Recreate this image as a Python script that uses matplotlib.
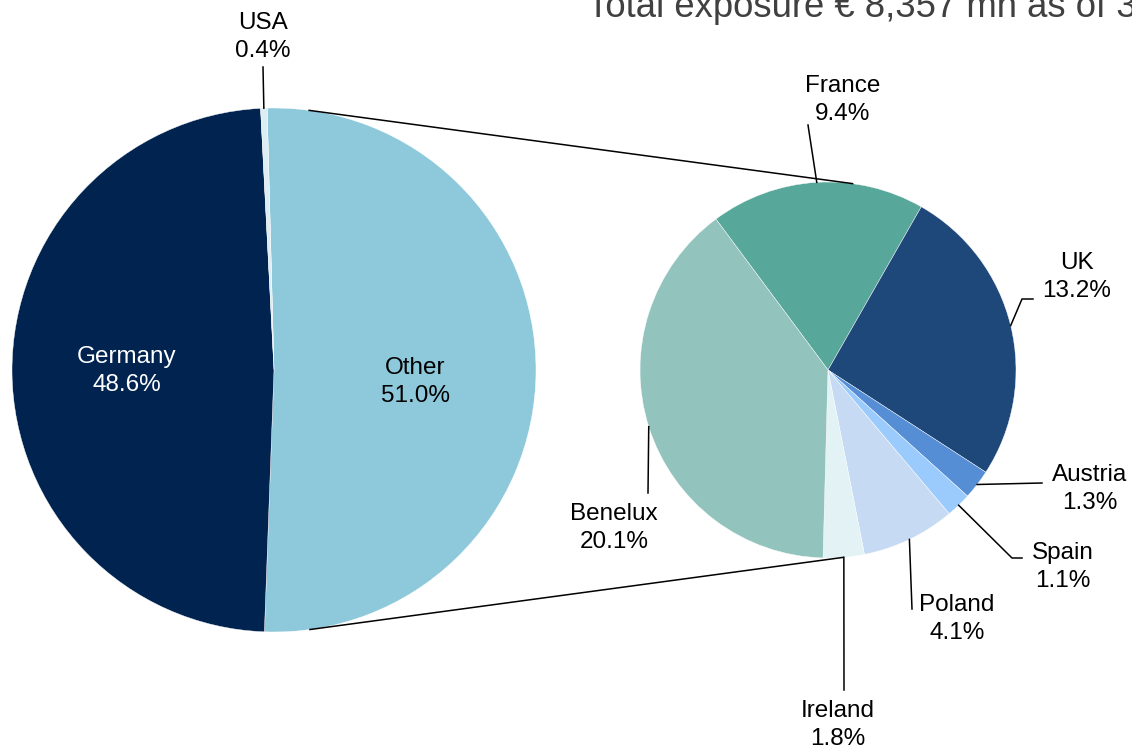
import numpy as np
import matplotlib.pyplot as plt

plt.rcParams['font.family'] = ['Liberation Sans', 'DejaVu Sans']

# first pie: whole exposure
main_labels = ["Other", "Germany", "USA"]
main_shares = [51.0, 48.6, 0.4]
main_colors = ["#8EC8DB", "#00234F", "#DCEDF4"]

# second pie: breakdown of "Other"
other_labels = ["France", "UK", "Austria", "Spain", "Poland", "Ireland", "Benelux"]
other_shares = [9.4, 13.2, 1.3, 1.1, 4.1, 1.8, 20.1]
other_colors = ["#58A79B", "#1F487A", "#558ED5", "#9BCBFD",
                "#C6DBF3", "#E3F2F5", "#92C3BC"]

title = "Total exposure € 8,357 mn as of 3"

W, H = 1132, 753
fig = plt.figure(figsize=(W / 100, H / 100), dpi=100)
ax = fig.add_axes([0, 0, 1, 1])


def py(y):
    # pixel row -> data y
    return H - y


big_c, big_r = (274, py(370)), 262
small_c, small_r = (828, py(370)), 188
wp = dict(edgecolor="white", linewidth=0.3)

wl, _ = ax.pie(main_shares, colors=main_colors, startangle=91.5,
               counterclock=False, center=big_c, radius=big_r, wedgeprops=wp)
ws, _ = ax.pie(other_shares, colors=other_colors, startangle=126.6,
               counterclock=False, center=small_c, radius=small_r, wedgeprops=wp)


def rim(c, r, ang):
    a = np.radians(ang)
    return c[0] + r * np.cos(a), c[1] + r * np.sin(a)


# connector lines between the two pies
for a_big, a_small in [(82.3, 82.5), (-82.1, -85.4)]:
    p, q = rim(big_c, big_r, a_big), rim(small_c, small_r, a_small)
    ax.plot([p[0], q[0]], [p[1], q[1]], color="black", lw=1.1)

# label layout: text centre and leader path (pixel coords)
layout = {
    "Germany": ((127, 371), None),
    "Other":   ((415, 382), None),
    "USA":     ((263, 37), [(263, 67)]),
    "France":  ((843, 100), [(808, 125)]),
    "UK":      ((1077, 277), [(1022, 299), (1033, 299)]),
    "Austria": ((1090, 489), [(1042, 483)]),
    "Spain":   ((1063, 567), [(1012, 558), (1022, 558)]),
    "Poland":  ((957, 619), [(912, 609)]),
    "Ireland": ((838, 725), [(844, 690)]),
    "Benelux": ((614, 528), [(648, 493)]),
}

groups = [(main_labels, main_shares, wl, big_c, big_r),
          (other_labels, other_shares, ws, small_c, small_r)]
for labels, shares, wedges, c, r in groups:
    for name, share, w in zip(labels, shares, wedges):
        (tx, ty), path = layout[name]
        if path:
            start = rim(c, r, (w.theta1 + w.theta2) / 2)
            xs = [start[0]] + [p[0] for p in path]
            ys = [start[1]] + [py(p[1]) for p in path]
            ax.plot(xs, ys, color="black", lw=1.1)
        ax.text(tx, py(ty), f"{name}\n{share:.1f}%", ha="center", va="center",
                fontsize=17.5, linespacing=1.37,
                color="white" if name == "Germany" else "black")

ax.set_xlim(0, W)
ax.set_ylim(0, H)
ax.set_aspect("equal")
ax.axis("off")

fig.text(587 / W, 1 - 17 / H, title, fontsize=26.3, color="#404040",
         ha="left", va="baseline")

fig.savefig("out.png", dpi=100)
